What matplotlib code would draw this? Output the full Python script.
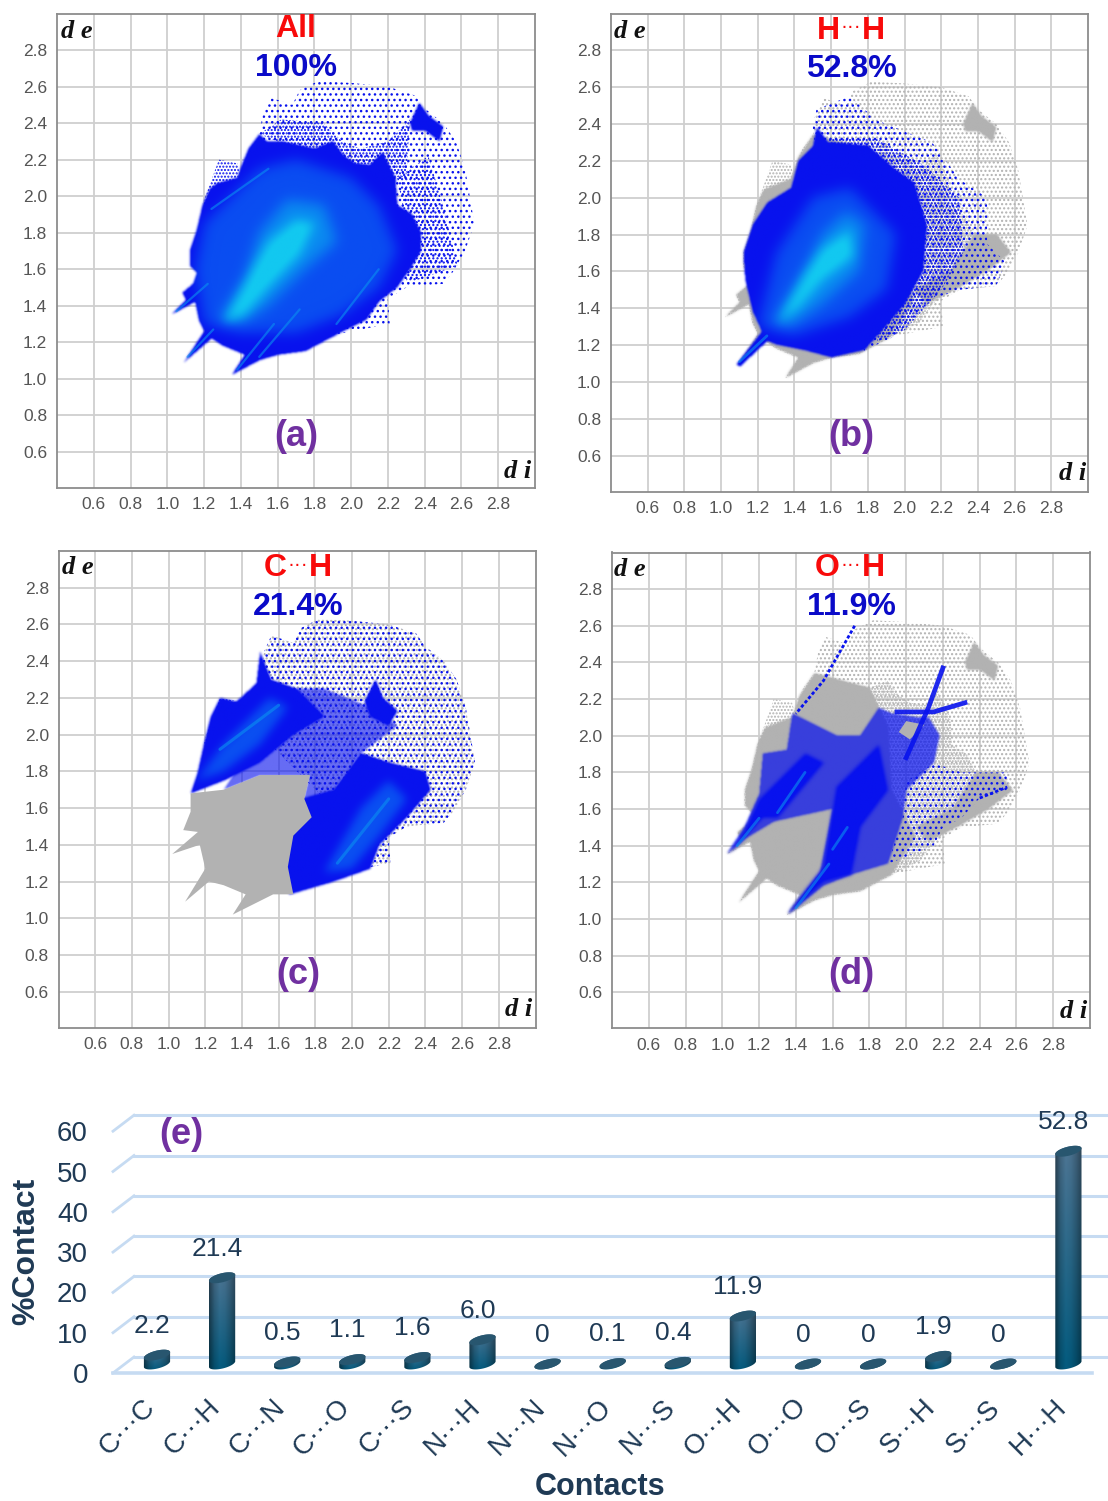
import numpy as np
import matplotlib
matplotlib.use("Agg")
import matplotlib.pyplot as plt
from matplotlib.patches import Polygon
from matplotlib.path import Path
from matplotlib.colors import LinearSegmentedColormap, to_rgb
from matplotlib.transforms import ScaledTranslation

plt.rcParams['font.family'] = ['Liberation Sans', 'DejaVu Sans']
W, H = 1108, 1501

# ---------- data ----------
grid_ticks = [0.6, 0.8, 1.0, 1.2, 1.4, 1.6, 1.8, 2.0, 2.2, 2.4, 2.6, 2.8]
contacts = ['C···C', 'C···H', 'C···N', 'C···O', 'C···S', 'N···H', 'N···N', 'N···O',
            'N···S', 'O···H', 'O···O', 'O···S', 'S···H', 'S···S', 'H···H']
percent = [2.2, 21.4, 0.5, 1.1, 1.6, 6.0, 0, 0.1, 0.4, 11.9, 0, 0, 1.9, 0, 52.8]
percent_text = ['2.2', '21.4', '0.5', '1.1', '1.6', '6.0', '0', '0.1', '0.4', '11.9', '0', '0', '1.9', '0', '52.8']
percent_ticks = [0, 10, 20, 30, 40, 50, 60]

full_dense = [(1.02,1.35),(1.10,1.43),(1.08,1.47),(1.14,1.52),(1.16,1.58),(1.12,1.62),(1.12,1.70),(1.16,1.82),
              (1.19,1.95),(1.23,2.04),(1.27,2.07),(1.38,2.10),(1.40,2.16),(1.44,2.26),(1.50,2.34),(1.54,2.30),
              (1.62,2.30),(1.80,2.26),(1.90,2.30),(1.96,2.22),(2.02,2.18),(2.10,2.17),(2.17,2.24),(2.24,2.10),
              (2.25,1.95),(2.33,1.90),(2.38,1.80),(2.38,1.70),(2.32,1.60),(2.25,1.50),(2.15,1.42),(2.08,1.32),
              (1.92,1.24),(1.75,1.15),(1.60,1.13),(1.50,1.10),(1.35,1.02),(1.42,1.13),(1.30,1.18),(1.24,1.22),
              (1.09,1.09),(1.20,1.26),(1.17,1.32),(1.15,1.42)]
full_sparse = [(1.50,2.34),(1.52,2.45),(1.56,2.54),(1.68,2.50),(1.72,2.58),(1.82,2.63),(2.00,2.62),(2.20,2.60),
               (2.35,2.55),(2.40,2.48),(2.50,2.40),(2.57,2.30),(2.62,2.15),(2.67,1.85),(2.62,1.70),(2.55,1.58),
               (2.50,1.52),(2.30,1.50),(2.20,1.44),(2.21,1.30),(2.00,1.26),(1.90,1.24),(1.90,1.60),(1.50,2.00)]
sparse_left = [(1.19,1.95),(1.23,2.06),(1.28,2.20),(1.38,2.18),(1.40,2.10),(1.27,1.98)]
band_top = [(1.50,2.34),(1.62,2.42),(1.85,2.40),(1.95,2.30),(2.05,2.26),(2.20,2.30),(2.32,2.42),(2.30,2.10),(2.10,2.12),(1.80,2.22)]
band_right = [(2.25,2.10),(2.42,2.22),(2.50,1.95),(2.58,1.62),(2.30,1.52),(2.30,1.85)]
blob_top_right = [(2.32,2.40),(2.37,2.51),(2.42,2.44),(2.50,2.38),(2.48,2.30),(2.40,2.36),(2.33,2.36)]
gray_core = [(1.02,1.35),(1.10,1.43),(1.08,1.47),(1.14,1.52),(1.16,1.58),(1.12,1.62),(1.12,1.70),(1.16,1.82),
             (1.19,1.95),(1.23,2.04),(1.38,2.10),(1.42,2.22),(1.50,2.34),(1.80,2.26),(1.90,2.05),(1.92,1.70),
             (2.05,1.45),(1.92,1.24),(1.75,1.15),(1.60,1.13),(1.50,1.10),(1.35,1.02),(1.42,1.13),(1.30,1.18),
             (1.24,1.22),(1.09,1.09),(1.20,1.26),(1.17,1.32),(1.15,1.42)]
gray_right = [(2.05,1.50),(2.25,1.60),(2.38,1.80),(2.50,1.80),(2.58,1.70),(2.45,1.60),(2.28,1.50),(2.12,1.42)]

a_mid = [(1.20,1.30),(1.15,1.60),(1.20,1.85),(1.35,2.00),(1.50,2.15),(1.70,2.20),(2.00,2.10),(2.15,1.95),
         (2.25,1.70),(2.15,1.50),(1.95,1.35),(1.70,1.25),(1.40,1.25)]
a_light = [(1.28,1.32),(1.42,1.55),(1.50,1.80),(1.65,1.98),(1.85,1.95),(1.92,1.75),(1.75,1.60),(1.55,1.40),(1.40,1.30)]
a_bright = [(1.30,1.30),(1.45,1.58),(1.55,1.75),(1.70,1.87),(1.80,1.85),(1.72,1.68),(1.55,1.50),(1.42,1.35)]
a_streaks = [[(1.24,1.93),(1.55,2.15)],[(1.92,1.30),(2.15,1.60)],[(1.11,1.12),(1.25,1.27)],[(1.38,1.05),(1.58,1.30)],
             [(1.05,1.37),(1.22,1.52)],[(1.50,1.12),(1.72,1.38)]]

b_dense = [(1.08,1.09),(1.22,1.27),(1.17,1.38),(1.13,1.55),(1.12,1.70),(1.17,1.85),(1.25,1.97),(1.38,2.05),
           (1.42,2.20),(1.50,2.28),(1.52,2.38),(1.58,2.30),(1.80,2.28),(1.95,2.15),(2.05,2.08),(2.12,1.85),
           (2.10,1.60),(2.00,1.42),(1.88,1.28),(1.78,1.17),(1.60,1.13),(1.45,1.17),(1.30,1.20),(1.25,1.22),(1.10,1.08)]
b_sparse = [(1.50,2.38),(1.52,2.48),(1.70,2.55),(1.85,2.42),(2.15,2.30),(2.30,2.10),(2.45,2.00),(2.45,1.75),
            (2.55,1.65),(2.50,1.52),(2.30,1.50),(2.15,1.45),(1.95,1.25),(1.78,1.17),(1.60,1.60)]
b_fade = [(1.58,2.32),(1.85,2.32),(2.10,2.18),(2.30,2.00),(2.32,1.70),(2.20,1.50),(2.00,1.28),(1.85,1.22),(1.90,1.80)]
b_mid = [(1.20,1.30),(1.30,1.70),(1.50,2.00),(1.70,2.05),(1.95,1.80),(1.90,1.50),(1.70,1.35),(1.40,1.25)]
b_light = [(1.28,1.30),(1.45,1.60),(1.55,1.80),(1.68,1.92),(1.78,1.85),(1.75,1.60),(1.55,1.42),(1.38,1.30)]
b_bright = [(1.30,1.32),(1.45,1.58),(1.55,1.72),(1.70,1.82),(1.72,1.68),(1.55,1.55),(1.42,1.40)]
b_streaks = [[(1.10,1.11),(1.25,1.25)]]

c_gray = [(1.12,1.68),(1.30,1.70),(1.50,1.78),(1.77,1.78),(1.74,1.65),(1.78,1.55),(1.68,1.45),(1.65,1.28),(1.68,1.13),
          (1.57,1.13),(1.47,1.08),(1.35,1.02),(1.42,1.13),(1.30,1.18),(1.22,1.20),(1.09,1.09),(1.20,1.27),(1.17,1.40),
          (1.02,1.35),(1.16,1.47),(1.08,1.48),(1.12,1.58)]
c_upper = [(1.12,1.68),(1.16,1.80),(1.20,1.98),(1.23,2.10),(1.28,2.20),(1.37,2.18),(1.48,2.28),(1.50,2.45),(1.56,2.30),
           (1.70,2.25),(1.85,2.10),(1.68,2.00),(1.50,1.85),(1.30,1.75)]
c_lower = [(1.66,1.13),(1.63,1.28),(1.66,1.45),(1.76,1.55),(1.72,1.65),(1.90,1.70),(2.05,1.90),(2.20,1.85),(2.40,1.80),
           (2.43,1.70),(2.30,1.55),(2.20,1.45),(2.15,1.40),(2.10,1.27),(1.90,1.20)]
c_band = [(1.30,1.70),(1.50,1.78),(1.77,1.78),(1.74,1.65),(1.78,1.55),(1.90,1.70),(2.05,1.90),(2.25,2.05),(2.10,2.15),
          (1.85,2.25),(1.70,2.25),(1.50,2.00)]
c_blob = [(2.13,2.30),(2.17,2.20),(2.25,2.13),(2.20,2.05),(2.10,2.10),(2.07,2.18)]
c_mid_up = [(1.15,1.75),(1.30,1.95),(1.55,2.20),(1.65,2.15),(1.50,1.95),(1.30,1.80)]
c_mid_low = [(1.85,1.25),(2.05,1.60),(2.20,1.75),(2.30,1.65),(2.15,1.45),(2.00,1.27)]
c_streaks = [[(1.28,1.92),(1.60,2.16)],[(1.92,1.30),(2.20,1.65)]]

d_region = [(1.02,1.35),(1.12,1.50),(1.20,1.68),(1.22,1.90),(1.35,1.92),(1.38,2.12),(1.52,2.05),(1.62,2.00),(1.75,2.00),
            (1.85,2.15),(1.92,2.12),(2.05,2.10),(2.12,2.10),(2.18,2.00),(2.15,1.85),(2.00,1.70),(1.98,1.55),(1.90,1.30),
            (1.70,1.24),(1.55,1.18),(1.35,1.02),(1.53,1.25),(1.60,1.60),(1.28,1.53),(1.13,1.44)]
d_right = [(1.98,1.55),(2.00,1.75),(2.15,1.85),(2.30,1.80),(2.55,1.80),(2.55,1.70),(2.40,1.66),(2.30,1.55),(2.20,1.50),
           (2.15,1.40),(1.90,1.30)]
d_hole = [(2.02,1.98),(2.10,2.06),(2.00,2.08),(1.96,2.02)]
d_dense_left = [(1.03,1.35),(1.22,1.55),(1.30,1.55),(1.55,1.85),(1.45,1.90),(1.30,1.75),(1.20,1.65),(1.12,1.48)]
d_dense_low = [(1.35,1.02),(1.55,1.20),(1.70,1.24),(1.75,1.50),(1.90,1.70),(1.85,1.95),(1.62,1.72),(1.55,1.28)]
d_light = [[(1.08,1.40),(1.20,1.55)],[(1.30,1.58),(1.45,1.80)],[(1.40,1.06),(1.58,1.30)],[(1.60,1.38),(1.68,1.50)]]
d_cross = [[(1.95,2.13),(2.15,2.13),(2.32,2.18)],[(2.20,2.37),(2.12,2.15),(2.00,1.88)]]
d_dots = [[(1.72,2.60),(1.55,2.30),(1.40,2.12)],[(2.40,1.66),(2.55,1.72)]]

# ---------- drawing helpers ----------
GX = np.arange(0.90, 2.80, 0.004)
GY = np.arange(0.90, 2.75, 0.004)
MX, MY = np.meshgrid(GX, GY)
GRID_PTS = np.column_stack([MX.ravel(), MY.ravel()])
EXTENT = (GX[0], GX[-1], GY[0], GY[-1])
density_cmap = LinearSegmentedColormap.from_list('den', ['#0812ee', '#0a4cf2', '#0a90f0', '#12c8f0'])


def raster(pts):
    return Path(pts).contains_points(GRID_PTS).reshape(MX.shape).astype(float)


def blur(a, sigma):
    fy = np.fft.fftfreq(a.shape[0])[:, None]
    fx = np.fft.rfftfreq(a.shape[1])[None, :]
    g = np.exp(-2 * (np.pi * sigma) ** 2 * (fx ** 2 + fy ** 2))
    return np.fft.irfft2(np.fft.rfft2(a) * g, s=a.shape)


def density(ax, shapes, levels=(), opacity=1.0, z=3, edge=1.5):
    """Soft filled region: shapes give the outline, levels the lighter inner zones."""
    mask = np.zeros(MX.shape)
    for s in shapes:
        mask = np.maximum(mask, raster(s))
    alpha = np.clip(blur(mask, edge) * 1.15, 0, 1) * opacity
    lev = np.zeros(MX.shape)
    for pts, w, sig in levels:
        lev += w * blur(raster(pts), sig)
    rgba = density_cmap(np.clip(lev, 0, 1))
    rgba[..., 3] = alpha
    ax.imshow(rgba, extent=EXTENT, origin='lower', aspect='auto', interpolation='bilinear', zorder=z)
    ax.set_xlim(0.4, 3.0)
    ax.set_ylim(0.405, 3.0)


def solid(ax, pts, color, z=3):
    ax.add_patch(Polygon(pts, closed=True, fc=color, ec='none', zorder=z))


def stipple(ax, pts, color, hatch='...', z=2.5):
    ax.add_patch(Polygon(pts, closed=True, fc='none', ec=color, lw=0, hatch=hatch, zorder=z))


def gray_base(ax):
    stipple(ax, full_sparse, GRAY, '....', 2)
    stipple(ax, full_dense, GRAY, '......', 2)
    stipple(ax, sparse_left, GRAY, '.....', 2)
    density_gray(ax, [gray_core, gray_right, blob_top_right])


def density_gray(ax, shapes):
    mask = np.zeros(MX.shape)
    for s in shapes:
        mask = np.maximum(mask, raster(s))
    rgba = np.zeros(MX.shape + (4,))
    rgba[..., :3] = to_rgb(GRAY)
    rgba[..., 3] = np.clip(blur(mask, 1.5) * 1.15, 0, 1)
    ax.imshow(rgba, extent=EXTENT, origin='lower', aspect='auto', interpolation='bilinear', zorder=2.2)
    ax.set_xlim(0.4, 3.0)
    ax.set_ylim(0.405, 3.0)


def streaks(ax, segs, color, lw):
    for s in segs:
        xs, ys = zip(*s)
        ax.plot(xs, ys, color=color, lw=lw, alpha=0.6, solid_capstyle='round', zorder=6)


BLUE = '#0812ee'
LIGHT = '#0a90f0'
GRAY = '#b2b2b2'
TXT_RED = '#f80a0a'
TXT_BLUE = '#0a0ac8'
PURPLE = '#7030a0'

fig = plt.figure(figsize=(W / 100, H / 100), dpi=100, facecolor='white')

panels = [
    dict(box=(57, 13.5, 535, 487.5), title='All', pct='100%', tag='(a)', tx=296, ty=29, py=68, gy=437, de=(77, 31), di=(518, 472)),
    dict(box=(611, 13.5, 1088, 491.5), title='H···H', pct='52.8%', tag='(b)', tx=851, ty=31, py=69, gy=437, de=(630, 32), di=(1073, 474)),
    dict(box=(58.5, 551, 535.5, 1027.5), title='C···H', pct='21.4%', tag='(c)', tx=298, ty=568, py=607, gy=974, de=(78, 568), di=(519, 1010)),
    dict(box=(612, 552.5, 1090, 1028), title='O···H', pct='11.9%', tag='(d)', tx=851, ty=568, py=607, gy=974, de=(630, 570), di=(1074, 1011)),
]
axes = []
for p in panels:
    ax = fig.add_axes(rect := [p['box'][0] / W, 1 - p['box'][3] / H, (p['box'][2] - p['box'][0]) / W, (p['box'][3] - p['box'][1]) / H])
    ax.set_xlim(0.4, 3.0)
    ax.set_ylim(0.405, 3.0)
    ax.set_xticks(grid_ticks)
    ax.set_yticks(grid_ticks)
    ax.set_xticklabels([f'{t:.1f}' for t in grid_ticks])
    ax.set_yticklabels([f'{t:.1f}' for t in grid_ticks])
    ax.tick_params(length=0, labelsize=12.5, labelcolor='#555555')
    ax.tick_params(axis='x', pad=7)
    ax.tick_params(axis='y', pad=7)
    ax.grid(True, color='#cfcfcf', lw=1.3)
    ax.set_axisbelow(True)
    for s in ax.spines.values():
        s.set_color('#8c8c8c')
        s.set_linewidth(1.3)
    axes.append(ax)
    tx, ty = p['tx'], p['ty']
    if '···' in p['title']:
        left, right = p['title'].split('···')
        fig.text((tx - 11) / W, 1 - ty / H, left, color=TXT_RED, fontsize=23, fontweight='bold', ha='right', va='center', zorder=10)
        fig.text((tx + 11) / W, 1 - ty / H, right, color=TXT_RED, fontsize=23, fontweight='bold', ha='left', va='center', zorder=10)
        fig.text(tx / W, 1 - (ty - 4) / H, '···', color=TXT_RED, fontsize=15, ha='center', va='center', zorder=10)
    else:
        fig.text(tx / W, 1 - ty / H, p['title'], color=TXT_RED, fontsize=23, fontweight='bold', ha='center', va='center', zorder=10)
    fig.text(tx / W, 1 - p['py'] / H, p['pct'], color=TXT_BLUE, fontsize=23, fontweight='bold', ha='center', va='center', zorder=10)
    fig.text(tx / W, 1 - p['gy'] / H, p['tag'], color=PURPLE, fontsize=26, fontweight='bold', ha='center', va='center', zorder=10)
    for key, s in (('de', 'd e'), ('di', 'd i')):
        fig.text(p[key][0] / W, 1 - p[key][1] / H, s, color='#111111', fontsize=19, fontweight='bold', fontstyle='italic',
                 family='Liberation Serif', ha='center', va='center', zorder=10)

# panel a
ax = axes[0]
stipple(ax, full_sparse, BLUE, '...')
stipple(ax, sparse_left, BLUE, '.....')
stipple(ax, band_top, BLUE, '.....')
stipple(ax, band_right, BLUE, '....')
density(ax, [full_dense, blob_top_right],
        [(a_mid, 0.34, 9), (a_light, 0.30, 9), (a_bright, 0.40, 7)])
streaks(ax, a_streaks, LIGHT, 1.6)

# panel b
ax = axes[1]
gray_base(ax)
stipple(ax, b_sparse, BLUE, '...', 2.6)
stipple(ax, b_fade, BLUE, '.....', 2.7)
density(ax, [b_dense], [(b_mid, 0.34, 9), (b_light, 0.30, 9), (b_bright, 0.40, 7)])
streaks(ax, b_streaks, LIGHT, 2)

# panel c
ax = axes[2]
stipple(ax, full_sparse, GRAY, '....', 2)
stipple(ax, full_sparse, BLUE, '...', 2.6)
stipple(ax, sparse_left, BLUE, '.....', 2.6)
density(ax, [c_band], opacity=0.62, z=2.8)
density(ax, [c_upper, c_lower, c_blob], [(c_mid_up, 0.35, 6), (c_mid_low, 0.35, 6)])
density_c = solid(ax, c_gray, GRAY, z=3.5)
streaks(ax, c_streaks, LIGHT, 2.2)

# panel d
ax = axes[3]
gray_base(ax)
stipple(ax, d_right, BLUE, '...', 2.6)
density(ax, [d_region], opacity=0.72, z=2.8)
solid(ax, d_hole, GRAY, z=2.9)
density(ax, [d_dense_left, d_dense_low], z=3, edge=2.5)
streaks(ax, d_light, LIGHT, 2)
for s in d_cross:
    xs, ys = zip(*s)
    ax.plot(xs, ys, color=BLUE, lw=3.4, alpha=0.9, zorder=3)
for s in d_dots:
    xs, ys = zip(*s)
    ax.plot(xs, ys, color=BLUE, lw=2, ls=(0, (1.2, 0.8)), zorder=3)

# ---------- panel e: pseudo-3D columns ----------
PX_X, PX_Y = 65.1, 4.03      # pixels per category, pixels per percent
ax = fig.add_axes([113 / W, 1 - 1373 / H, 995 / W, 273 / H])
ax.patch.set_alpha(0)
for s in ax.spines.values():
    s.set_visible(False)
ax.set_xlim((113 - 157) / PX_X, (1108 - 157) / PX_X)
ax.set_ylim(0, 273 / PX_Y)
idx = np.arange(len(contacts))
ink = '#1f3a55'
BACK_DY = 16 / PX_Y
back_left = (134 - 157) / PX_X
front_left = (113 - 157) / PX_X
for v in percent_ticks:
    ax.plot([back_left, 14.61], [v + BACK_DY, v + BACK_DY], color='#c6dbf2', lw=2.2, zorder=1, clip_on=False)
    ax.plot([front_left, back_left], [v, v + BACK_DY], color='#c6dbf2', lw=2, zorder=1, clip_on=False)
ax.plot([front_left, (1092 - 157) / PX_X], [0, 0], color='#c6dbf2', lw=2.6, zorder=1, clip_on=False)

ax.set_yticks(percent_ticks)
ax.tick_params(axis='y', length=0, pad=18, labelsize=20, labelcolor=ink)
ax.set_xticks(idx)
ax.set_xticklabels(contacts, rotation=45, ha='center', va='center', fontsize=20, color=ink)
ax.tick_params(axis='x', length=0, pad=39)
shift = ScaledTranslation(-30 / 100, 0, fig.dpi_scale_trans)
for lab in ax.get_xticklabels():
    lab.set_transform(lab.get_transform() + shift)

ax.set_ylabel('%Contact', fontsize=23, fontweight='bold', color=ink, va='center')
ax.yaxis.set_label_coords((26 - 113) / 995, (1373 - 1251) / 273)
ax.set_xlabel('Contacts', fontsize=22, fontweight='bold', color=ink, va='center')
ax.xaxis.set_label_coords((600 - 113) / 995, -(1487 - 1373) / 273)

BASE = 9 / PX_Y
HALF_W, HALF_H, TILT = 13.5, 4.5, np.radians(14)


def ellipse_pts(cx, cy, t):
    ex = HALF_W * np.cos(t) * np.cos(TILT) - HALF_H * np.sin(t) * np.sin(TILT)
    ey = HALF_W * np.cos(t) * np.sin(TILT) + HALF_H * np.sin(t) * np.cos(TILT)
    return cx + ex / PX_X, cy + ey / PX_Y


shade_x = np.array([0.55, 0.85, 1.0, 0.95, 0.8, 0.6])
for i, v in zip(idx, percent):
    top = BASE + v
    t1 = np.linspace(0, np.pi, 30)
    t2 = np.linspace(np.pi, 2 * np.pi, 30)
    xa, ya = ellipse_pts(i, top, t1)
    xb, yb = ellipse_pts(i, BASE, t2)
    verts = np.column_stack([np.r_[xa, xb], np.r_[ya, yb]])
    clip = Polygon(verts, closed=True, fc='none', ec='none', transform=ax.transData)
    ax.add_patch(clip)
    frac = np.linspace(0, 1, 16)[:, None]
    top_c = np.array([0.30, 0.46, 0.58])
    bot_c = np.array([0.02, 0.36, 0.50])
    col = (top_c * (1 - frac) + bot_c * frac)[:, None, :] * shade_x[None, :, None]
    im = ax.imshow(col, extent=(i - HALF_W / PX_X - 0.03, i + HALF_W / PX_X + 0.03, BASE - 1.6, top + 1.6),
                   aspect='auto', origin='upper', interpolation='bilinear', zorder=3)
    im.set_clip_path(clip)
    xc, yc = ellipse_pts(i, top, np.linspace(0, 2 * np.pi, 50))
    ax.add_patch(Polygon(np.column_stack([xc, yc]), closed=True, fc='#28566f', ec='none', zorder=4))
    ax.annotate(percent_text[i], xy=(i, top), xytext=(-3.6, 21), textcoords='offset points',
                ha='center', va='center', fontsize=19, color=ink, zorder=5, annotation_clip=False)

ax.set_xlim((113 - 157) / PX_X, (1108 - 157) / PX_X)
ax.set_ylim(0, 273 / PX_Y)

fig.text(181 / W, 1 - 1135 / H, '(e)', color=PURPLE, fontsize=26, fontweight='bold', ha='center', va='center')

fig.savefig('out.png', dpi=100, facecolor='white')
